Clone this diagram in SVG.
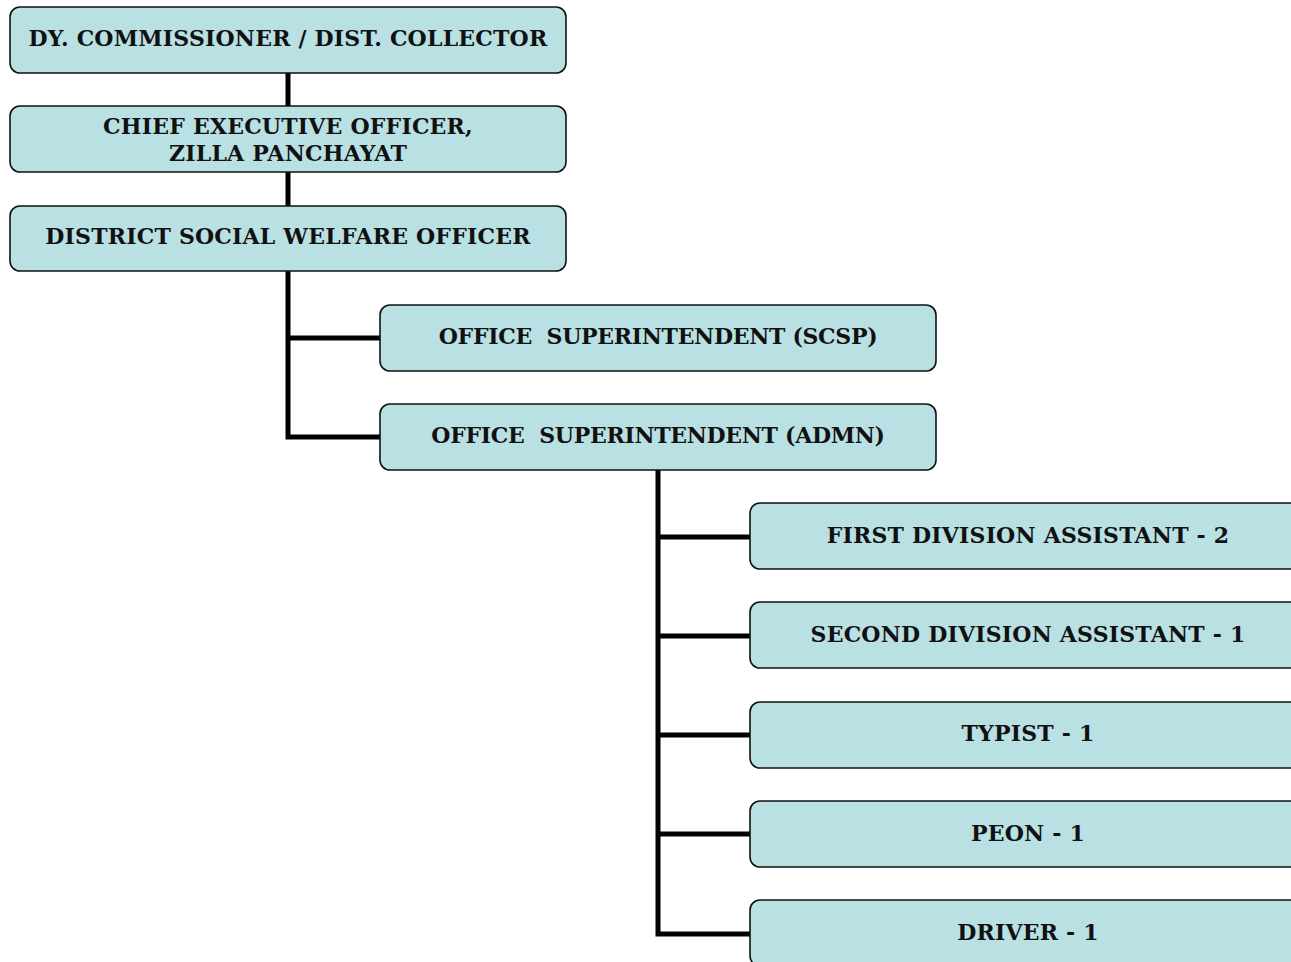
<svg xmlns="http://www.w3.org/2000/svg" width="1291" height="962" viewBox="0 0 1291 962">
<style>
.box{fill:#B9E0E3;stroke:#111;stroke-width:1.6}
.t{font-family:"DejaVu Serif","Liberation Serif",serif;font-weight:bold;font-size:22px;letter-spacing:0.2px;fill:#111;text-anchor:middle}
.n{letter-spacing:-0.3px}
.c{fill:none;stroke:#000;stroke-width:5}
</style>
<rect width="1291" height="962" fill="#fff"/>
<g id="connectors">
<path class="c" d="M288 73V106M288 172V206M288 271V437H380M288 338H380"/>
<path class="c" d="M658 470V934H750M658 537H750M658 636H750M658 735H750M658 834H750"/>
</g>
<g id="n1"><rect class="box" x="10" y="7" width="556" height="66" rx="10"/><text class="t" x="288" y="46">DY. COMMISSIONER / DIST. COLLECTOR</text></g>
<g id="n2"><rect class="box" x="10" y="106" width="556" height="66" rx="10"/><text class="t" x="288" y="134">CHIEF EXECUTIVE OFFICER,</text><text class="t" x="288" y="161">ZILLA PANCHAYAT</text></g>
<g id="n3"><rect class="box" x="10" y="206" width="556" height="65" rx="10"/><text class="t" x="288" y="244">DISTRICT SOCIAL WELFARE OFFICER</text></g>
<g id="n4"><rect class="box" x="380" y="305" width="556" height="66" rx="10"/><text class="t n" x="658" y="344" xml:space="preserve">OFFICE  SUPERINTENDENT (SCSP)</text></g>
<g id="n5"><rect class="box" x="380" y="404" width="556" height="66" rx="10"/><text class="t n" x="658" y="443" xml:space="preserve">OFFICE  SUPERINTENDENT (ADMN)</text></g>
<g id="n6"><rect class="box" x="750" y="503" width="556" height="66" rx="10"/><text class="t" x="1028" y="543">FIRST DIVISION ASSISTANT - 2</text></g>
<g id="n7"><rect class="box" x="750" y="602" width="556" height="66" rx="10"/><text class="t" x="1028" y="642">SECOND DIVISION ASSISTANT - 1</text></g>
<g id="n8"><rect class="box" x="750" y="702" width="556" height="66" rx="10"/><text class="t" x="1028" y="741">TYPIST - 1</text></g>
<g id="n9"><rect class="box" x="750" y="801" width="556" height="66" rx="10"/><text class="t" x="1028" y="841">PEON - 1</text></g>
<g id="n10"><rect class="box" x="750" y="900" width="556" height="66" rx="10"/><text class="t" x="1028" y="940">DRIVER - 1</text></g>
</svg>
